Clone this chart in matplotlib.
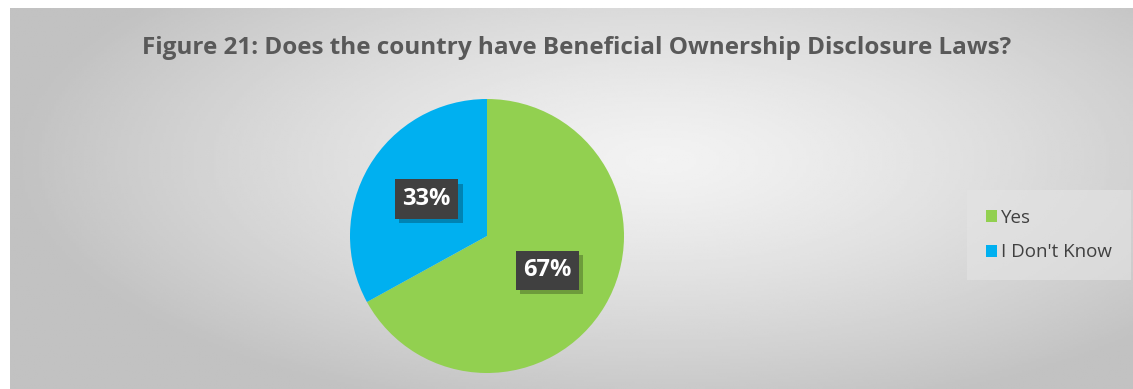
import matplotlib.pyplot as plt
import matplotlib.patheffects as pe
import numpy as np

labels = ["Yes", "I Don't Know"]
shares = [67, 33]
colors = ["#92d050", "#00b0f0"]
title = "Figure 21: Does the country have Beneficial Ownership Disclosure Laws?"

W, H = 1133, 389
fig = plt.figure(figsize=(W / 100, H / 100), dpi=100)
fig.patch.set_facecolor("white")

# chart area with a soft radial gray gradient
bg = fig.add_axes([10 / W, 0, 1 - 10 / W, 1 - 8 / H])
yy, xx = np.mgrid[0:1:200j, 0:1:400j]
r = np.sqrt(((xx - 0.58) / 0.8) ** 2 + ((yy - 0.6) / 0.95) ** 2)
r = np.clip(r / 0.72, 0, 1)
shade = 0.95 - 0.19 * r ** 1.3
bg.imshow(shade, cmap="gray", vmin=0, vmax=1, aspect="auto",
          extent=[0, 1, 0, 1], origin="lower")
bg.axis("off")

bg.text(0.505, 0.895, title, ha="center", va="center", fontsize=17.5,
        fontweight="bold", color="#595959", family="Open Sans")

# pie
ax = fig.add_axes([(487 - 137) / W, (H - 236 - 137) / H, 274 / W, 274 / H])
wedges, _ = ax.pie(shares, colors=colors, startangle=90, counterclock=False,
                   radius=1, wedgeprops=dict(linewidth=0))
ax.set_xlim(-1, 1)
ax.set_ylim(-1, 1)
ax.set_aspect("auto")

# percentage labels in dark boxes with a drop shadow
label_pos = [(0.44, -0.25), (-0.44, 0.27)]
for (x, y), v in zip(label_pos, shares):
    t = ax.text(x, y, f"{v}%", ha="center", va="center", fontsize=17,
                fontweight="bold", color="white", family="Open Sans",
                bbox=dict(boxstyle="square,pad=0.32", fc="#404040", ec="none"))
    t.get_bbox_patch().set_path_effects([
        pe.SimplePatchShadow(offset=(3, -3), shadow_rgbFace="black", alpha=0.25),
        pe.Normal()])

# legend
leg = fig.legend(wedges, labels, loc="upper left",
                 bbox_to_anchor=(963 / W, 1 - 186 / H), frameon=True,
                 handlelength=0.6, handleheight=0.6,
                 handletextpad=0.25, labelspacing=0.9, borderpad=0.7,
                 prop=dict(family="Open Sans", size=13.5))
leg.get_frame().set_facecolor("#e4e4e4")
leg.get_frame().set_edgecolor("none")
leg.get_frame().set_boxstyle("square")
leg.get_frame().set_alpha(0.6)
for t in leg.get_texts():
    t.set_color("#404040")

fig.savefig("out.png", dpi=100)
